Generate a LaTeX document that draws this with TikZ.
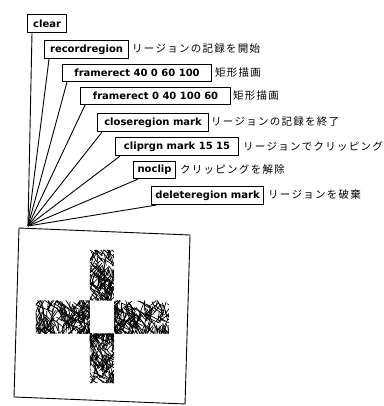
\documentclass[tikz,border=0pt]{standalone}
\usepackage{fontspec}
\newfontfamily\boxfont{DejaVu Sans}
\newfontfamily\jpfont[LetterSpace=12]{Noto Sans CJK JP}
\begin{document}
\begin{tikzpicture}[x=1pt,y=-1pt,
  msg/.style={draw, line width=1.1pt, anchor=north west, minimum height=18pt,
    inner sep=0pt, font=\boxfont\bfseries\fontsize{10}{12}\selectfont},
  lbl/.style={anchor=west, inner sep=0pt, font=\jpfont\fontsize{10.5}{12}\selectfont},
  wire/.style={line width=0.9pt},
  scrib/.style={line width=0.7pt}]
\useasboundingbox (0,0) rectangle (383,406);

\node[msg, minimum width=39pt] (clear) at (27,14) {clear};
\node[msg, minimum width=84pt] (rec) at (44,40) {recordregion};
\node[lbl] (recL) at (132,49) {リージョンの記録を開始};
\node[msg, minimum width=149pt, minimum height=17pt] (fr1) at (62,64) {framerect 40 0 60 100};
\node[lbl] (fr1L) at (215,72.5) {矩形描画};
\node[msg, minimum width=150pt, minimum height=17pt] (fr2) at (80,87) {framerect 0 40 100 60};
\node[lbl] (fr2L) at (233,95.5) {矩形描画};
\node[msg, minimum width=111pt] (cr) at (97,113) {closeregion mark};
\node[lbl] (crL) at (211,122) {リージョンの記録を終了};
\node[msg, minimum width=123pt] (clip) at (115,137) {cliprgn mark 15 15};
\node[lbl] (clipL) at (243,146) {リージョンでクリッピング};
\node[msg, minimum width=42pt, minimum height=17pt] (nc) at (133,161) {noclip};
\node[lbl] (ncL) at (180,169.5) {クリッピングを解除};
\node[msg, minimum width=112pt] (del) at (151,186) {deleteregion mark};
\node[lbl] (delL) at (268,195) {リージョンを破棄};

\coordinate (hub) at (28,226);
\foreach \n in {clear,rec,fr1,fr2,cr,clip,nc,del}
  \draw[wire] ([xshift=5pt]\n.south west) -- (hub);

\begin{scope}[shift={(19,228)}, x={(1.006pt,-0.0412pt)}, y={(-0.0294pt,-0.994pt)}]
  \draw[line width=0.9pt] (0,0) -- (170,0) -- (170,170) -- (0,170) -- cycle;
  \begin{scope}[even odd rule]
    \clip (71,19) rectangle (99,152) (19,72) rectangle (152,100);
    \pgfmathsetseed{11}
    \foreach \i in {1,...,520} {
      \pgfmathsetmacro\xa{66+38*rnd}
      \pgfmathsetmacro\ya{14+143*rnd}
      \pgfmathsetmacro\ang{20+120*rnd}
      \pgfmathsetmacro\len{5+14*rnd}
      \draw[scrib] (\xa,\ya) -- ++(\ang:\len);
    }
    \foreach \i in {1,...,520} {
      \pgfmathsetmacro\xa{14+143*rnd}
      \pgfmathsetmacro\ya{67+38*rnd}
      \pgfmathsetmacro\ang{20+120*rnd}
      \pgfmathsetmacro\len{5+14*rnd}
      \draw[scrib] (\xa,\ya) -- ++(\ang:\len);
    }
  \end{scope}
\end{scope}
\end{tikzpicture}
\end{document}
